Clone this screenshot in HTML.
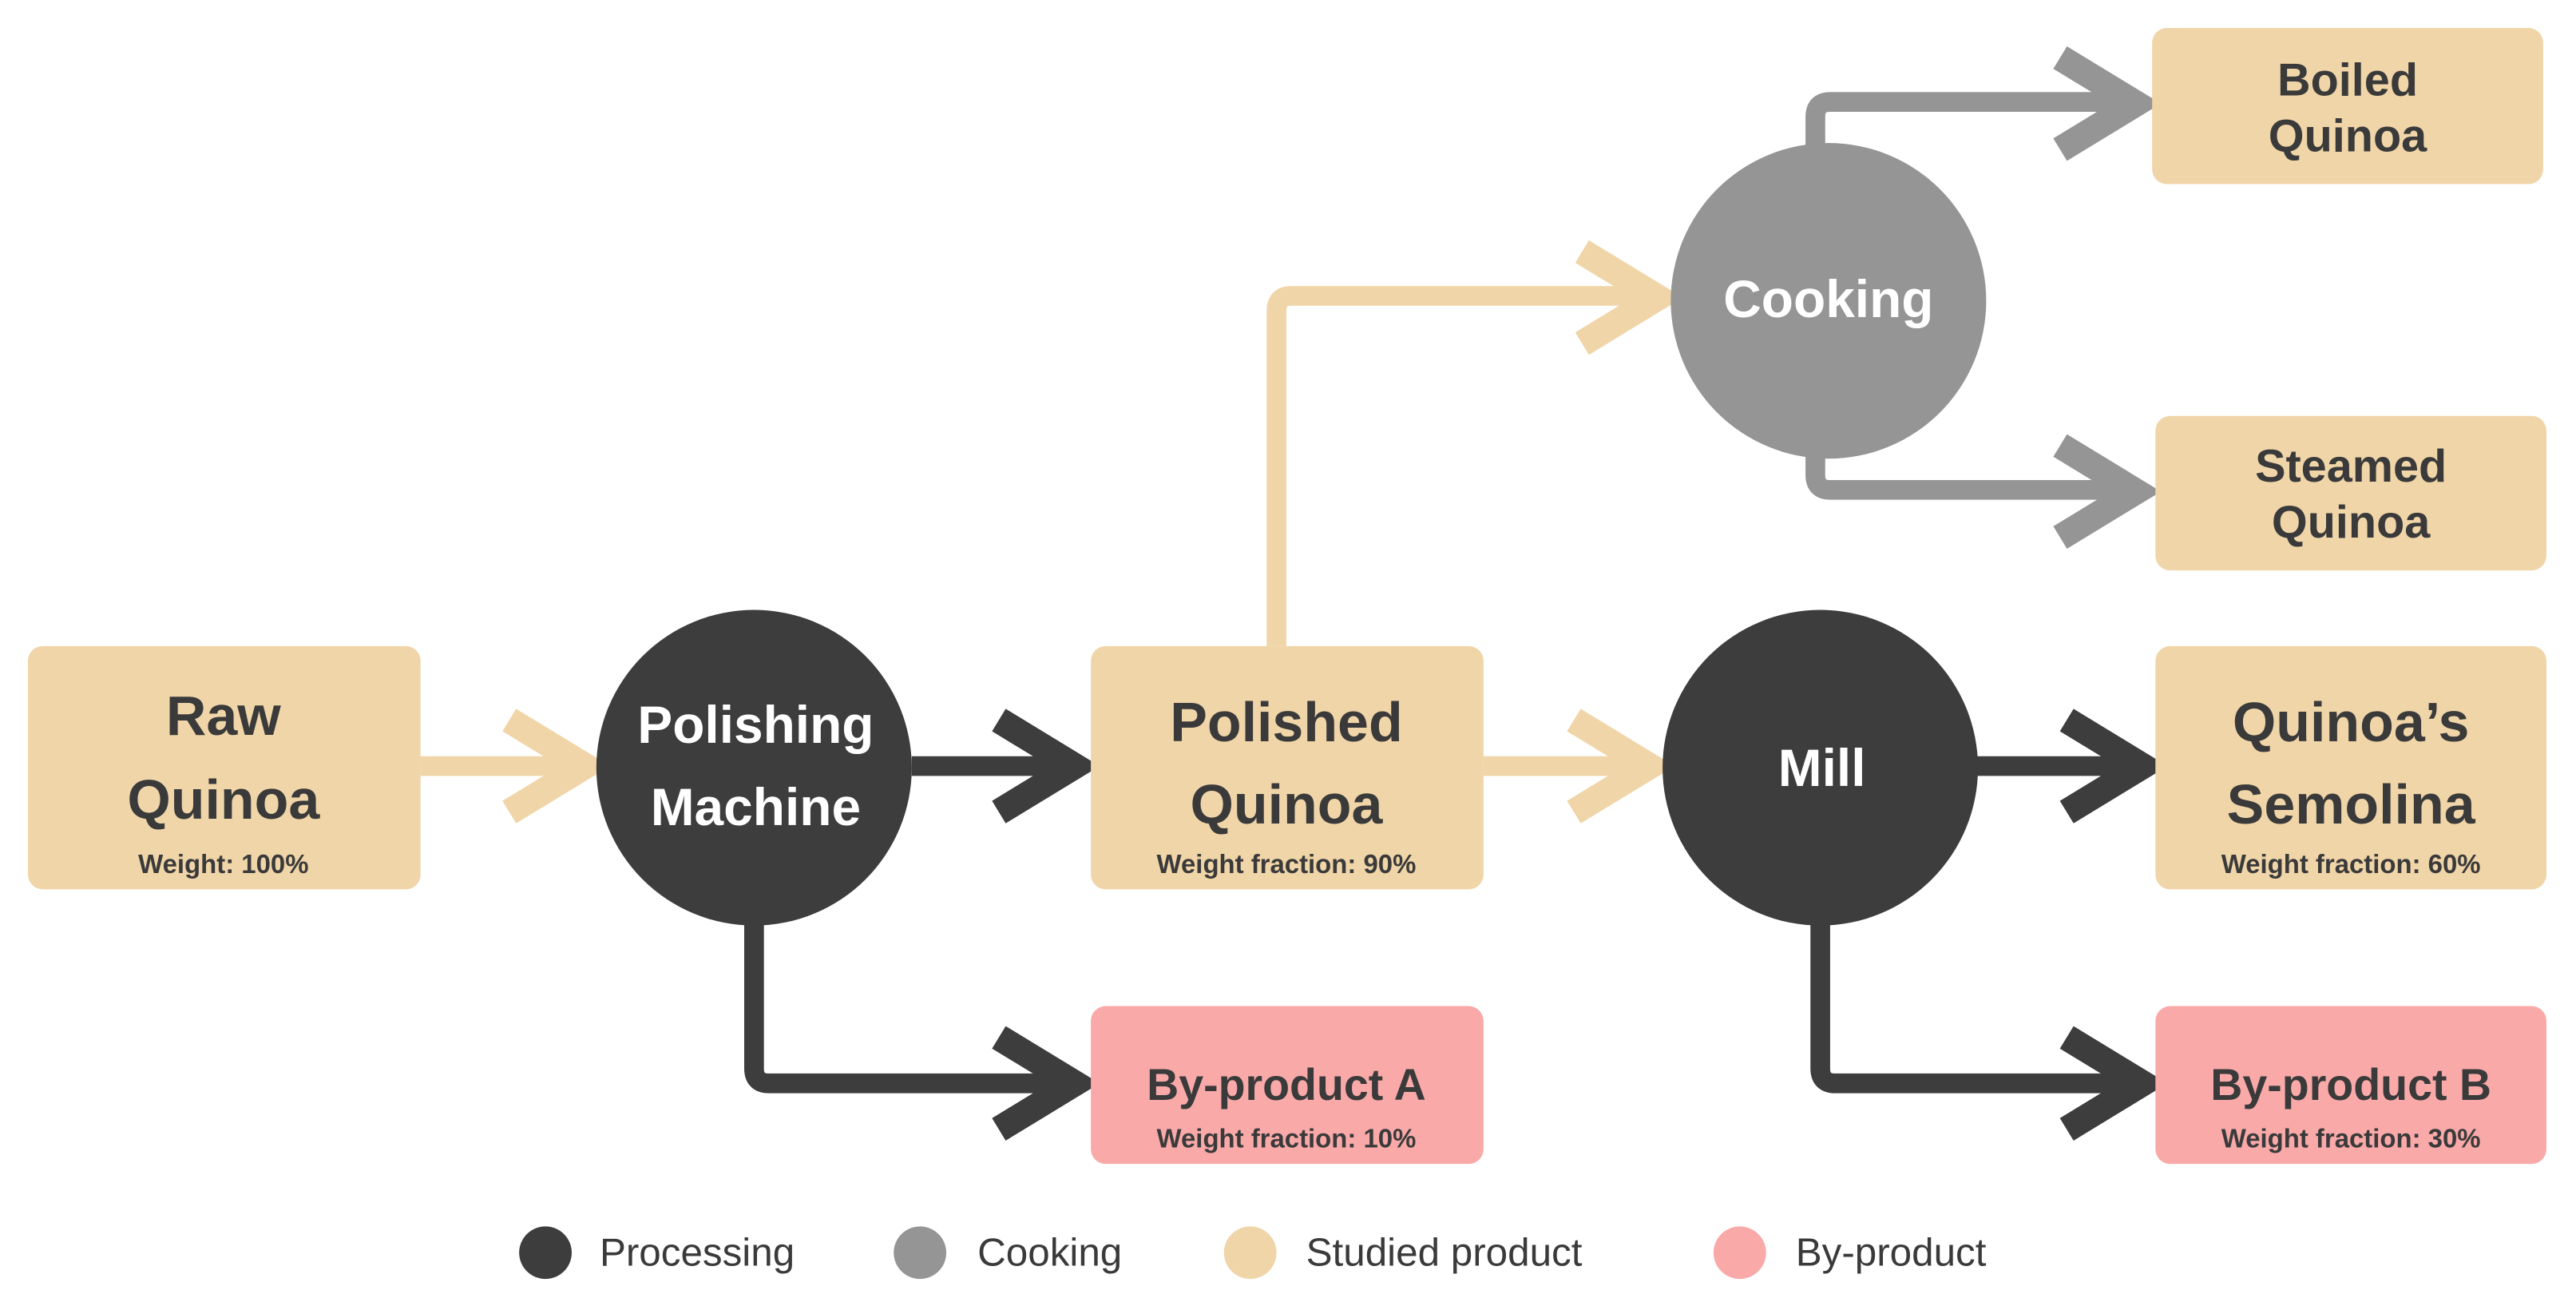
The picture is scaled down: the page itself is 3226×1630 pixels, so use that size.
<!DOCTYPE html>
<html><head><meta charset="utf-8"><style>
html,body{margin:0;padding:0;background:#fff;}
svg{display:block;}
text{font-family:"Liberation Sans",sans-serif;}
</style></head><body>
<svg width="3226" height="1630" viewBox="0 0 1568 792" preserveAspectRatio="none" xmlns="http://www.w3.org/2000/svg">
<rect width="1568" height="792" fill="#fff"/>
<g fill="none" stroke-linejoin="miter" stroke-linecap="butt">
<g stroke="#f0d5a8">
<line x1="256" y1="466" x2="352" y2="466" stroke-width="12"/>
<path d="M310,438 L356,466 L310,494" stroke-width="16"/>
<line x1="903" y1="466" x2="1002" y2="466" stroke-width="12"/>
<path d="M958,438 L1004,466 L958,494" stroke-width="16"/>
<path d="M777,393 L777,189 Q777,180 786,180 L1010,180" stroke-width="12"/>
<path d="M963,153 L1009,181 L963,209" stroke-width="16"/>
</g>
<g stroke="#3d3d3d">
<line x1="555" y1="466" x2="654" y2="466" stroke-width="12"/>
<path d="M608,438 L654,466 L608,494" stroke-width="16"/>
<path d="M459,560 L459,650 Q459,659 468,659 L654,659" stroke-width="12"/>
<path d="M608,631 L654,659 L608,687" stroke-width="16"/>
<line x1="1200" y1="466" x2="1304" y2="466" stroke-width="12"/>
<path d="M1258,438 L1304,466 L1258,494" stroke-width="16"/>
<path d="M1108,560 L1108,650 Q1108,659 1117,659 L1304,659" stroke-width="12"/>
<path d="M1258,631 L1304,659 L1258,687" stroke-width="16"/>
</g>
<g stroke="#959595">
<path d="M1105,95 L1105,71 Q1105,62 1114,62 L1300,62" stroke-width="12"/>
<path d="M1254,35 L1300,63 L1254,91" stroke-width="16"/>
<path d="M1105,272 L1105,289 Q1105,298 1114,298 L1300,298" stroke-width="12"/>
<path d="M1254,271 L1300,299 L1254,327" stroke-width="16"/>
</g>
</g>
<circle cx="459" cy="467" r="96" fill="#3d3d3d"/>
<circle cx="1113" cy="183" r="96" fill="#959595"/>
<circle cx="1108" cy="467" r="96" fill="#3d3d3d"/>
<g>
<rect x="17" y="393" width="239" height="148" rx="9" fill="#f0d5a8"/>
<rect x="664" y="393" width="239" height="148" rx="9" fill="#f0d5a8"/>
<rect x="1312" y="393" width="238" height="148" rx="9" fill="#f0d5a8"/>
<rect x="1310" y="17" width="238" height="95" rx="9" fill="#f0d5a8"/>
<rect x="1312" y="253" width="238" height="94" rx="9" fill="#f0d5a8"/>
<rect x="664" y="612" width="239" height="96" rx="9" fill="#faa9a9"/>
<rect x="1312" y="612" width="238" height="96" rx="9" fill="#faa9a9"/>
</g>
<g font-weight="bold" text-anchor="middle" fill="#3a3a3a">
<text x="136" y="447" font-size="34">Raw</text>
<text x="136" y="498" font-size="34">Quinoa</text>
<text x="136" y="531" font-size="16">Weight: 100%</text>
<text x="783" y="451" font-size="34">Polished</text>
<text x="783" y="501" font-size="34">Quinoa</text>
<text x="783" y="531" font-size="16">Weight fraction: 90%</text>
<text x="1431" y="451" font-size="34">Quinoa’s</text>
<text x="1431" y="501" font-size="34">Semolina</text>
<text x="1431" y="531" font-size="16">Weight fraction: 60%</text>
<text x="1429" y="58" font-size="28">Boiled</text>
<text x="1429" y="92" font-size="28">Quinoa</text>
<text x="1431" y="293" font-size="28">Steamed</text>
<text x="1431" y="327" font-size="28">Quinoa</text>
<text x="783" y="669" font-size="27">By-product A</text>
<text x="783" y="698" font-size="16">Weight fraction: 10%</text>
<text x="1431" y="669" font-size="27">By-product B</text>
<text x="1431" y="698" font-size="16">Weight fraction: 30%</text>
</g>
<g font-weight="bold" text-anchor="middle" fill="#fff">
<text x="460" y="452" font-size="32">Polishing</text>
<text x="460" y="502" font-size="32">Machine</text>
<text x="1113" y="193" font-size="32">Cooking</text>
<text x="1109" y="478" font-size="32">Mill</text>
</g>
<circle cx="332" cy="762" r="16" fill="#3d3d3d"/>
<circle cx="560" cy="762" r="16" fill="#959595"/>
<circle cx="761" cy="762" r="16" fill="#f0d5a8"/>
<circle cx="1059" cy="762" r="16" fill="#faa9a9"/>
<g font-size="24" fill="#3a3a3a">
<text x="365" y="770">Processing</text>
<text x="595" y="770">Cooking</text>
<text x="795" y="770">Studied product</text>
<text x="1093" y="770">By-product</text>
</g>
</svg>
</body></html>
